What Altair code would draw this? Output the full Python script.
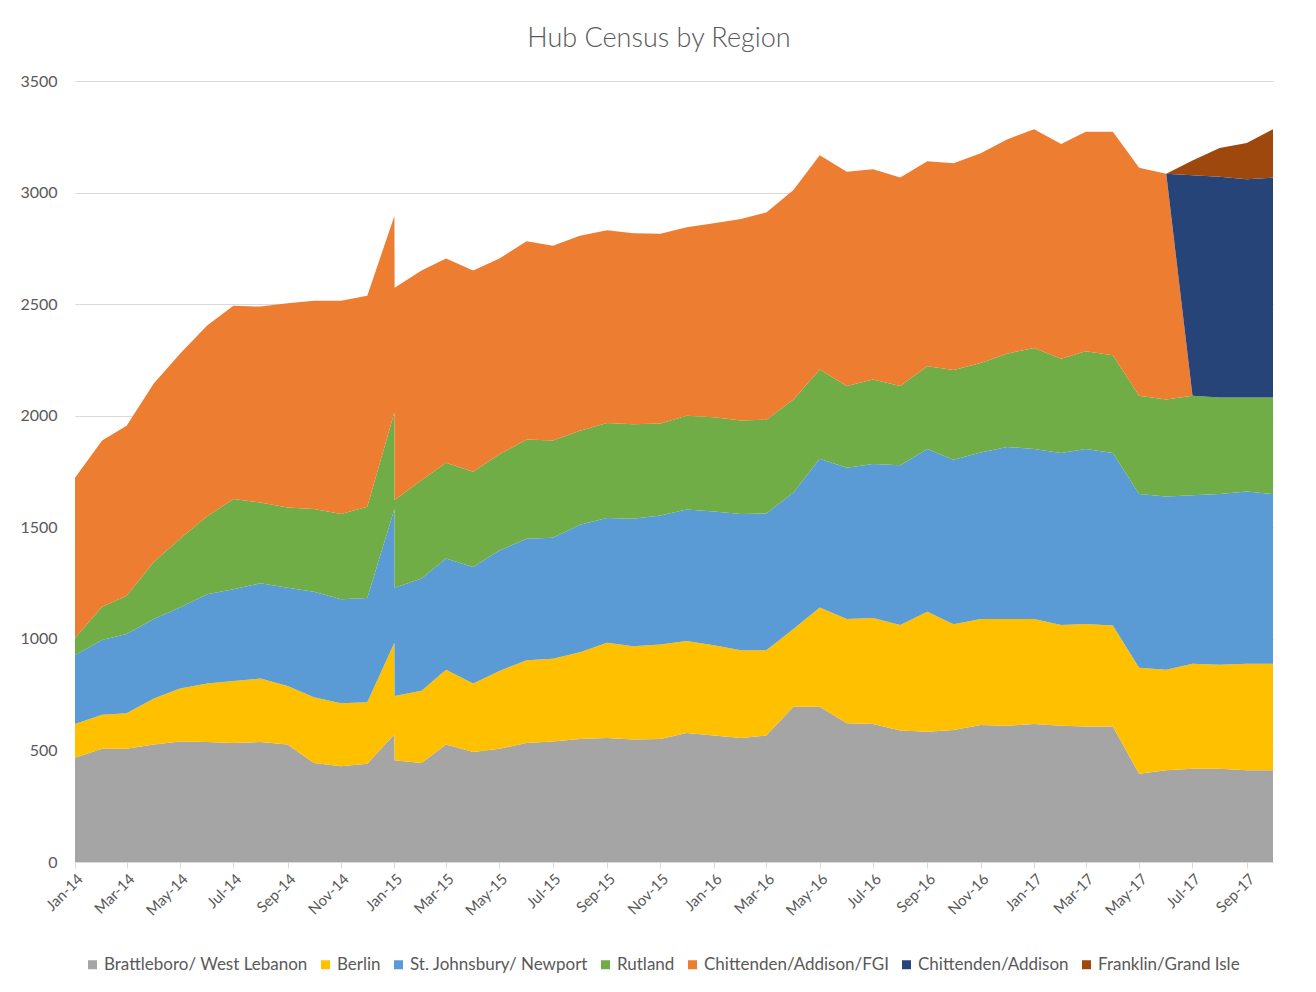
import altair as alt
import pandas as pd

# Monthly dates (Jan-15 appears twice in the source data: a spike, then a drop)
dates = [
    "2014-01-01T00:00:00", "2014-02-01T00:00:00", "2014-03-01T00:00:00", "2014-04-01T00:00:00",
    "2014-05-01T00:00:00", "2014-06-01T00:00:00", "2014-07-01T00:00:00", "2014-08-01T00:00:00",
    "2014-09-01T00:00:00", "2014-10-01T00:00:00", "2014-11-01T00:00:00", "2014-12-01T00:00:00",
    "2015-01-01T00:00:00", "2015-01-01T06:00:00",
    "2015-02-01T00:00:00", "2015-03-01T00:00:00", "2015-04-01T00:00:00", "2015-05-01T00:00:00",
    "2015-06-01T00:00:00", "2015-07-01T00:00:00", "2015-08-01T00:00:00", "2015-09-01T00:00:00",
    "2015-10-01T00:00:00", "2015-11-01T00:00:00", "2015-12-01T00:00:00",
    "2016-01-01T00:00:00", "2016-02-01T00:00:00", "2016-03-01T00:00:00", "2016-04-01T00:00:00",
    "2016-05-01T00:00:00", "2016-06-01T00:00:00", "2016-07-01T00:00:00", "2016-08-01T00:00:00",
    "2016-09-01T00:00:00", "2016-10-01T00:00:00", "2016-11-01T00:00:00", "2016-12-01T00:00:00",
    "2017-01-01T00:00:00", "2017-02-01T00:00:00", "2017-03-01T00:00:00", "2017-04-01T00:00:00",
    "2017-05-01T00:00:00", "2017-06-01T00:00:00", "2017-07-01T00:00:00", "2017-08-01T00:00:00",
    "2017-09-01T00:00:00", "2017-10-01T00:00:00",
]

regions = [
    "Brattleboro/ West Lebanon",
    "Berlin",
    "St. Johnsbury/ Newport",
    "Rutland",
    "Chittenden/Addison/FGI",
    "Chittenden/Addison",
    "Franklin/Grand Isle",
]
colors = ["#A5A5A5", "#FFC000", "#5B9BD5", "#70AD47", "#ED7D31", "#264478", "#9E480E"]

brattleboro = [467, 507, 507, 527, 540, 538, 533, 538, 527, 444, 429, 440,
               573, 456,
               444, 527, 493, 507, 533, 540, 551, 556, 549, 551, 578,
               567, 556, 567, 696, 696, 622, 618, 589, 584, 592, 614, 611,
               618, 611, 607, 607, 395, 411, 418, 418, 411, 411]
berlin = [151, 153, 160, 206, 238, 262, 278, 284, 262, 294, 282, 276,
          409, 288,
          323, 335, 307, 349, 371, 371, 389, 426, 418, 424, 412,
          404, 393, 382, 348, 444, 467, 475, 473, 538, 474, 475, 478,
          471, 451, 460, 453, 476, 451, 471, 466, 478, 478]
stjohnsbury = [309, 335, 355, 356, 362, 400, 411, 427, 440, 473, 467, 467,
               600, 485,
               504, 498, 522, 540, 545, 542, 571, 560, 571, 578, 590,
               600, 611, 613, 612, 667, 678, 691, 716, 729, 737, 746, 771,
               762, 771, 784, 773, 778, 776, 755, 765, 771, 760]
rutland = [77, 149, 171, 255, 309, 349, 405, 362, 360, 371, 382, 409,
           433, 393,
           440, 429, 427, 431, 444, 436, 422, 425, 424, 412, 420,
           422, 418, 420, 417, 400, 366, 378, 355, 371, 402, 401, 418,
           453, 422, 438, 438, 440, 435, 445, 433, 422, 433]
chittenden_fgi = [718, 745, 762, 800, 829, 855, 866, 878, 915, 933, 955, 946,
                  880, 951,
                  940, 915, 902, 877, 889, 873, 874, 864, 856, 851, 845,
                  869, 904, 929, 938, 960, 960, 942, 934, 918, 926, 940, 960,
                  980, 963, 984, 1002, 1022, 1011, 0, 0, 0, 0]
chittenden_addison = [0, 0, 0, 0, 0, 0, 0, 0, 0, 0, 0, 0,
                      0, 0,
                      0, 0, 0, 0, 0, 0, 0, 0, 0, 0, 0,
                      0, 0, 0, 0, 0, 0, 0, 0, 0, 0, 0, 0,
                      0, 0, 0, 0, 0, 0, 989, 989, 978, 985]
franklin = [0, 0, 0, 0, 0, 0, 0, 0, 0, 0, 0, 0,
            0, 0,
            0, 0, 0, 0, 0, 0, 0, 0, 0, 0, 0,
            0, 0, 0, 0, 0, 0, 0, 0, 0, 0, 0, 0,
            0, 0, 0, 0, 0, 0, 66, 129, 162, 217]

series = [brattleboro, berlin, stjohnsbury, rutland, chittenden_fgi, chittenden_addison, franklin]

rows = []
for i, (name, vals) in enumerate(zip(regions, series)):
    for d, v in zip(dates, vals):
        rows.append({"date": d, "region": name, "value": v, "idx": i})
df = pd.DataFrame(rows)

FONT = "Lato"
TXT = "#595959"
GRID = "#D9D9D9"

chart = alt.Chart(df).mark_area(interpolate="linear").encode(
    x=alt.X(
        "date:T",
        scale=alt.Scale(domain=[alt.DateTime(year=2014, month=1, date=1),
                                alt.DateTime(year=2017, month=10, date=1)], nice=False),
        axis=alt.Axis(format="%b-%y", tickCount={"interval": "month", "step": 2},
                      labelAngle=-45, grid=False, domainColor=GRID, tickColor=GRID,
                      tickSize=6, labelColor=TXT, labelFontSize=15, labelFont=FONT,
                      labelPadding=3, title=None, labelOverlap=False),
    ),
    y=alt.Y(
        "value:Q", stack="zero",
        scale=alt.Scale(domain=[0, 3500], nice=False),
        axis=alt.Axis(values=[0, 500, 1000, 1500, 2000, 2500, 3000, 3500], format="d",
                      grid=True, gridColor=GRID, domain=False, ticks=False, labelPadding=18,
                      labelColor=TXT, labelFontSize=16, labelFont=FONT, title=None),
    ),
    color=alt.Color(
        "region:N",
        scale=alt.Scale(domain=regions, range=colors),
        legend=alt.Legend(orient="none", legendX=9, legendY=875, direction="horizontal",
                          title=None, symbolType="square", symbolSize=81, symbolStrokeWidth=0,
                          labelFont=FONT, labelFontSize=17, labelColor=TXT,
                          columnPadding=9, labelOffset=3, labelLimit=400),
    ),
    order=alt.Order("idx:Q", sort="ascending"),
).properties(
    width=1198,
    height=781,
    title=alt.TitleParams("Hub Census by Region", fontSize=27, font=FONT, color=TXT,
                          fontWeight=300, anchor="middle", offset=20, dx=-15),
    autosize=alt.AutoSizeParams(type="none"),
    padding={"left": 67, "top": 73, "right": 35, "bottom": 122},
).configure_view(stroke=None)

chart.save("out.html", embed_options={"renderer": "svg", "actions": False})
